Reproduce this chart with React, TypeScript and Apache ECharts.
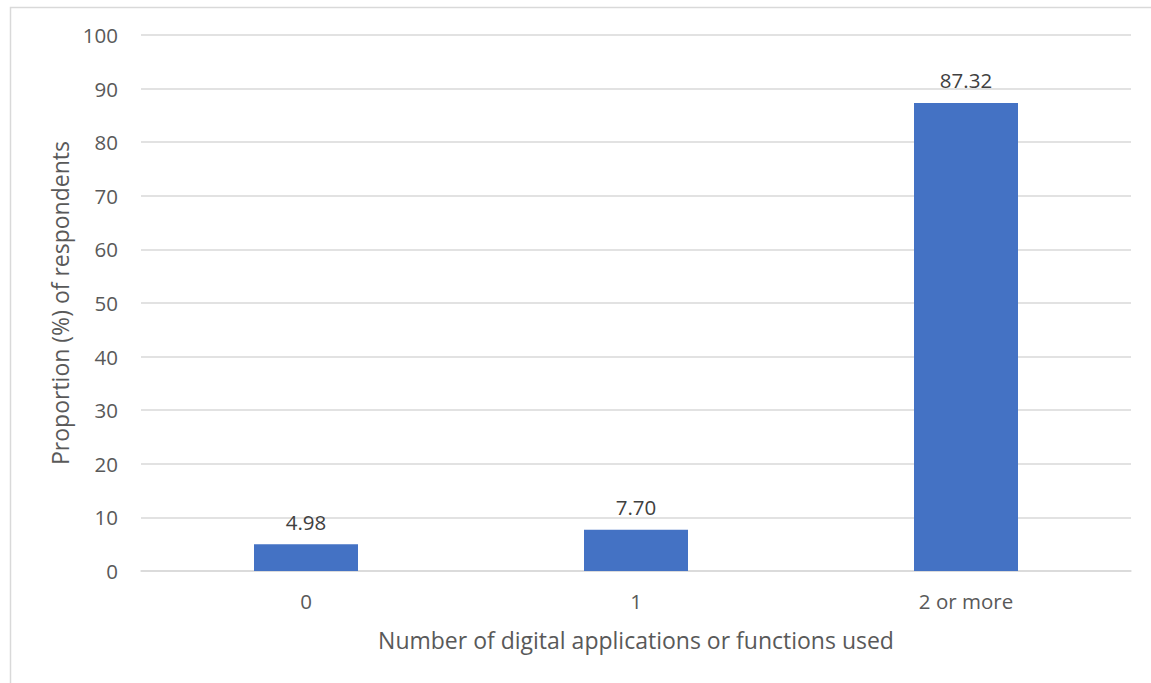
import React, { useEffect, useRef } from "react";
import * as echarts from "echarts";

const categories = ["0", "1", "2 or more"];
const values = [4.98, 7.7, 87.32];
const valueLabels = ["4.98", "7.70", "87.32"];

export default function App() {
  const ref = useRef<HTMLDivElement>(null);
  useEffect(() => {
    const chart = echarts.init(ref.current!, null, { renderer: "svg" });
    const font = "'Open Sans', sans-serif";
    chart.setOption({
      animation: false,
      backgroundColor: "#ffffff",
      graphic: [
        {
          type: "rect",
          left: 8,
          top: 5,
          shape: { x: 0, y: 0, width: 1142, height: 700 },
          style: { fill: "none", stroke: "#d9d9d9", lineWidth: 1.5 },
          silent: true,
        },
      ],
      grid: { left: 141, right: 20, top: 35, bottom: 112, containLabel: false },
      xAxis: {
        type: "category",
        data: categories,
        name: "Number of digital applications or functions used",
        nameLocation: "middle",
        nameGap: 57,
        nameTextStyle: { color: "#595959", fontSize: 23, fontFamily: font },
        axisLine: { lineStyle: { color: "#d9d9d9", width: 1.5 } },
        axisTick: { show: false },
        axisLabel: { color: "#595959", fontSize: 20.5, fontFamily: font, margin: 19 },
      },
      yAxis: {
        type: "value",
        min: 0,
        max: 100,
        interval: 10,
        name: "Proportion (%) of respondents",
        nameLocation: "middle",
        nameGap: 67,
        nameTextStyle: { color: "#595959", fontSize: 23, fontFamily: font },
        axisLine: { show: false },
        axisTick: { show: false },
        axisLabel: { color: "#595959", fontSize: 20.5, fontFamily: font, margin: 23 },
        splitLine: { lineStyle: { color: "#d9d9d9", width: 1.5 } },
      },
      series: [
        {
          type: "bar",
          data: values,
          barWidth: 104,
          itemStyle: { color: "#4472C4" },
          label: {
            show: true,
            position: "top",
            distance: 12,
            color: "#404040",
            fontSize: 20.5,
            fontFamily: font,
            formatter: (p: any) => valueLabels[p.dataIndex],
          },
        },
      ],
    });
    return () => chart.dispose();
  }, []);
  return (
    <div
      ref={ref}
      style={{ position: "fixed", left: 0, top: 0, width: 1151, height: 683 }}
    />
  );
}
